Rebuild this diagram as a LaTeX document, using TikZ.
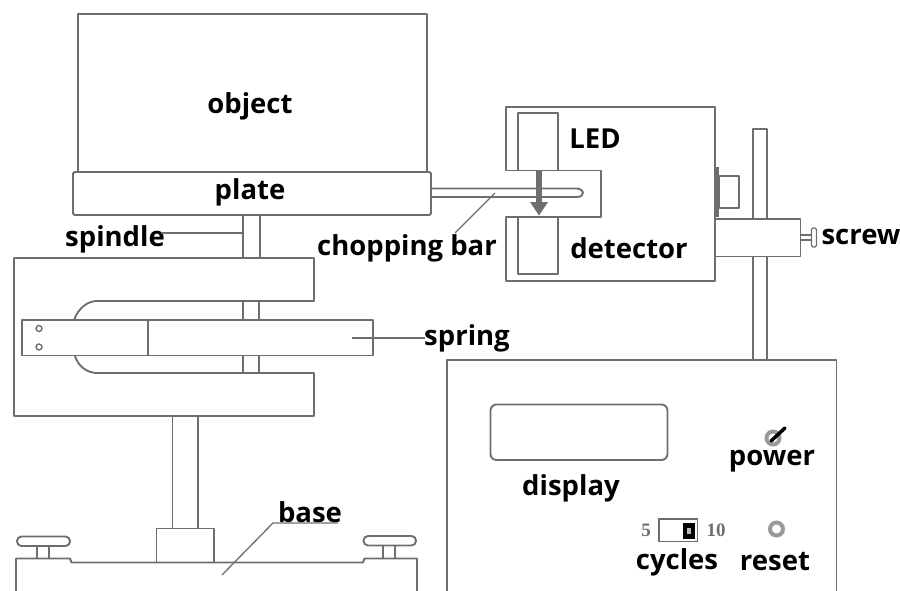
\documentclass[tikz,border=0pt]{standalone}
\usepackage{fontspec}
\setmainfont{Open Sans}
\newfontfamily\numfont{Liberation Serif}
\definecolor{ln}{HTML}{6E6E6E}
\tikzset{
  part/.style={draw=ln,line width=1.9pt,line join=round,fill=none},
  thinline/.style={draw=ln,line width=1.3pt},
  lab/.style={font=\fontsize{27.5}{27.5}\selectfont\bfseries,text=black,inner sep=0pt,anchor=center},
  num/.style={font=\fontsize{19}{19}\selectfont\numfont\bfseries,text=ln,inner sep=0pt,anchor=center}
}
\begin{document}
\begin{tikzpicture}[x=1pt,y=-1pt]
\useasboundingbox (0,0) rectangle (900,591);
% object and plate
\draw[part] (78,172) -- (78,14) -- (427,14) -- (427,172);
\draw[part,rounded corners=1.5pt] (73,172) rectangle (431,215);
% spindle
\draw[part] (243,215) -- (243,258) (260,215) -- (260,258);
\draw[part] (243,301) -- (243,320) (259,301) -- (259,320);
\draw[part] (243,356) -- (243,373) (259,356) -- (259,373);
% frame
\draw[part] (74,320) .. controls (78,309) and (87,301) .. (97,301) -- (314,301) -- (314,258) -- (14,258) -- (14,416) -- (314,416) -- (314,373) -- (97,373) .. controls (87,373) and (78,366) .. (75,356);
% spring
\draw[part,fill=white] (22,320) rectangle (373,355.5);
\draw[part] (148,320) -- (148,355.5);
\draw[draw=ln,line width=1.4pt] (39,328.5) circle (3) (39,347) circle (3);
% column and base
\draw[part] (172.5,416) -- (172.5,529) (198,416) -- (198,529);
\draw[part] (156.5,562.5) -- (156.5,528.5) -- (214,528.5) -- (214,562.5);
\draw[part] (16,591) -- (16,558.5) -- (70,558.5) -- (71.5,562.5) -- (363,562.5) -- (364.5,558.5) -- (417,558.5) -- (417,591);
\draw[part,rounded corners=4.5pt] (17,536.5) rectangle (70,546);
\draw[part,rounded corners=4.5pt] (363.5,536) rectangle (416,545.5);
\draw[part] (37,546) -- (37,558.5) (49,546) -- (49,558.5);
\draw[part] (383,545.5) -- (383,558.5) (395,545.5) -- (395,558.5);
% detector housing
\draw[part] (506,170.5) -- (506,107) -- (715,107) -- (715,281) -- (506,281) -- (506,217) -- (601,217) -- (601,170.5) -- cycle;
\draw[part] (518,170.5) -- (518,113) -- (558,113) -- (558,170.5);
\draw[part] (518,217) -- (518,274) -- (558,274) -- (558,217);
% chopping bar
\draw[part] (431,188.5) -- (577,188.5) .. controls (581,189) and (583,191) .. (583,192.5) .. controls (583,195) and (581,197) .. (577,197) -- (431,197);
% light arrow
\fill[ln] (535.5,171) rectangle (541.5,203);
\fill[ln] (530,202) -- (548,202) -- (539,215.5) -- cycle;
% mount and pole
\fill[ln] (715,167) rectangle (718.5,217);
\draw[part] (719.5,176) rectangle (739,208);
\draw[part] (753,219) -- (753,129) -- (767,129) -- (767,219);
\draw[part] (753,256.5) -- (753,360) (767,256.5) -- (767,360);
\draw[part] (715,219) -- (800.5,219) -- (800.5,256.5) -- (715,256.5);
\draw[draw=ln,line width=1.4pt] (800.5,235) -- (811,235) (800.5,240) -- (811,240);
\draw[draw=ln,line width=1.4pt,rounded corners=1.5pt] (811.5,228) rectangle (816.5,247);
% control box
\draw[part] (447,591) -- (447,360) -- (836.5,360) -- (836.5,591);
\draw[part,rounded corners=6pt] (490.5,404.5) rectangle (667.5,460);
\draw[draw=ln!70,line width=4pt] (773,438) circle (6.5);
\draw[black,line width=3.5pt,line cap=round] (771,441) -- (785,428);
\draw[draw=ln!70,line width=4pt] (776.5,529) circle (6.5);
\draw[draw=ln,line width=1.4pt] (659,519) rectangle (697.5,541.5);
\fill[black] (683,523) rectangle (695,539);
\fill[ln!50] (687,528) rectangle (691,534);
% text
\node[lab] (object) at (250,106) {object};
\node[lab] (plate) at (250,192) {plate};
\node[lab] (spindle) at (115,239) {spindle};
\node[lab] (chop) at (407,248) {chopping bar};
\node[lab] (led) at (595,139) {LED};
\node[lab] (detector) at (629,248) {detector};
\node[lab] (screw) at (861,237) {screw};
\node[lab] (spring) at (467,338) {spring};
\node[lab] (display) at (571,488) {display};
\node[lab] (power) at (772,461) {power};
\node[lab] (cycles) at (677,562) {cycles};
\node[lab] (reset) at (775,562) {reset};
\node[lab] (base) at (310,512) {base};
\node[num] (five) at (646,530) {5};
\node[num] (ten) at (716,530) {10};
% leaders
\coordinate (spindlept) at (244,233);
\coordinate (spindlefree) at (161,233);
\coordinate (chopsrc) at (495,193);
\coordinate (chopend) at (455,233);
\coordinate (springpt) at (352,338);
\coordinate (springend) at (425,338);
\coordinate (basept) at (222,575);
\coordinate (basemid) at (273,523);
\coordinate (baseend) at (338,523);
\draw[thinline] (spindlefree) -- (spindlept);
\draw[thinline] (chopsrc) -- (chopend);
\draw[thinline] (springpt) -- (springend);
\draw[thinline] (basept) -- (basemid) -- (baseend);
\end{tikzpicture}
\end{document}
